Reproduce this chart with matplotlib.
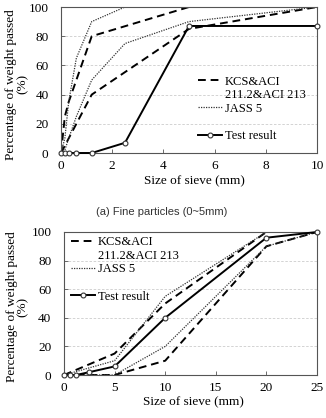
import matplotlib
matplotlib.use("Agg")
import matplotlib.pyplot as plt
from matplotlib.lines import Line2D

# fine aggregate (0~5mm)
fine_kcs_size = [0, 0.15, 0.3, 1.2, 5, 10]
fine_kcs_upper = [0, 25, 35, 80, 100, 100]
fine_kcs_lower = [0, 5, 10, 40, 85, 100]
fine_jass_size = [0, 0.15, 0.3, 0.6, 1.2, 2.5, 5, 10]
fine_jass_upper = [0, 10, 35, 65, 90, 100, 100, 100]
fine_jass_lower = [0, 2, 10, 25, 50, 75, 90, 100]
fine_test_size = [0, 0.15, 0.3, 0.6, 1.2, 2.5, 5, 10]
fine_test = [0, 0, 0, 0, 0, 7, 87, 87]

# coarse aggregate
coarse_kcs_size = [0, 5, 10, 20, 25]
coarse_kcs_upper = [0, 15, 50, 100, 100]
coarse_kcs_lower = [0, 0, 10, 90, 100]
coarse_jass_size = [0, 5, 10, 20, 25]
coarse_jass_upper = [0, 10, 55, 100, 100]
coarse_jass_lower = [0, 0, 20, 90, 100]
coarse_test_size = [0, 0.6, 1.2, 2.5, 5, 10, 20, 25]
coarse_test = [0, 0, 0, 2, 6, 40, 96, 100]

fine_xticks = [0, 2, 4, 6, 8, 10]
coarse_xticks = [0, 5, 10, 15, 20, 25]
yticks = [0, 20, 40, 60, 80, 100]
legend_labels = ["KCS&ACI", "211.2&ACI 213", "JASS 5", "", "Test result"]

plt.rcParams["font.family"] = ["Liberation Serif", "DejaVu Serif"]
plt.rcParams["font.size"] = 9.5

W, H = 326, 418
fig = plt.figure(figsize=(W / 100, H / 100), dpi=100)

dash = dict(color="black", linestyle=(0, (4, 2.5)), linewidth=1.4)
dot = dict(color="#333333", linestyle=(0, (1, 1)), linewidth=0.9)
marker_style = dict(marker="o", markersize=3.5, markerfacecolor="white",
                    markeredgecolor="#333333", markeredgewidth=0.8)
solid = dict(color="black", linestyle="-", linewidth=1.4, clip_on=False,
             zorder=5, **marker_style)


def style_axes(ax, xmax, xticks):
    ax.set_xlim(0, xmax)
    ax.set_ylim(0, 100)
    ax.set_xticks(xticks)
    ax.set_yticks(yticks)
    ax.tick_params(direction="in", length=3, width=0.6, color="#555555",
                   labelsize=9.5)
    ax.tick_params(axis="y", pad=9)
    ax.tick_params(axis="x", pad=5)
    for s in ax.spines.values():
        s.set_color("#555555")
        s.set_linewidth(0.8)
    ax.yaxis.grid(True, linestyle=(0, (3, 2)), color="#cccccc", linewidth=0.6)
    ax.set_axisbelow(True)
    ax.set_xlabel("Size of sieve (mm)", fontsize=9.5)
    ax.set_ylabel("Percentage of weight passed\n(%)", fontsize=9.5,
                  linespacing=0.95)


def add_legend(ax, x, y):
    handles = [
        Line2D([], [], **dash),
        Line2D([], [], linestyle="none"),
        Line2D([], [], **dot),
        Line2D([], [], linestyle="none"),
        Line2D([], [], color="black", linewidth=1.4, **marker_style),
    ]
    ax.legend(handles, legend_labels, loc="upper left", bbox_to_anchor=(x, y),
              frameon=False, fontsize=9, handlelength=1.9, handletextpad=0.25,
              labelspacing=0.13, borderpad=0, borderaxespad=0)


# top chart
ax1 = fig.add_axes([61 / W, 1 - 153 / H, 256 / W, 146 / H])
ax1.plot(fine_kcs_size, fine_kcs_upper, **dash)
ax1.plot(fine_kcs_size, fine_kcs_lower, **dash)
ax1.plot(fine_jass_size, fine_jass_upper, **dot)
ax1.plot(fine_jass_size, fine_jass_lower, **dot)
ax1.plot(fine_test_size, fine_test, **solid)
style_axes(ax1, 10, fine_xticks)
ax1.xaxis.set_label_coords(0.52, -0.155)
ax1.yaxis.set_label_coords(-0.125, 0.47)
add_legend(ax1, 0.535, 0.53)

fig.text(0.497, 1 - 212 / H, "(a) Fine particles (0~5mm)", ha="center",
         va="center", fontsize=8, color="#333333",
         family=["Liberation Sans", "DejaVu Sans"])

# bottom chart
ax2 = fig.add_axes([64 / W, 1 - 375 / H, 253 / W, 143 / H])
ax2.plot(coarse_kcs_size, coarse_kcs_upper, **dash)
ax2.plot(coarse_kcs_size, coarse_kcs_lower, **dash)
ax2.plot(coarse_jass_size, coarse_jass_upper, **dot)
ax2.plot(coarse_jass_size, coarse_jass_lower, **dot)
ax2.plot(coarse_test_size, coarse_test, **solid)
style_axes(ax2, 25, coarse_xticks)
ax2.xaxis.set_label_coords(0.51, -0.15)
ax2.yaxis.set_label_coords(-0.138, 0.475)
add_legend(ax2, 0.028, 0.972)

fig.savefig("out.png", dpi=100)
